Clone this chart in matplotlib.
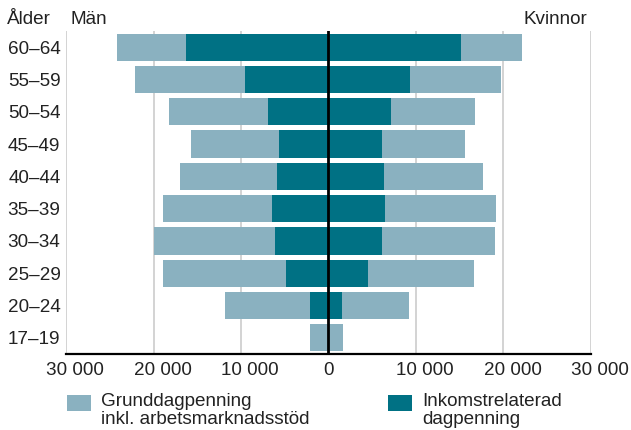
import numpy as np
import matplotlib
matplotlib.use("Agg")
import matplotlib.pyplot as plt
from matplotlib.patches import Rectangle
from matplotlib.transforms import ScaledTranslation

plt.rcParams['font.family'] = ['Liberation Sans', 'DejaVu Sans']

# age groups, top to bottom
ages = ["60–64", "55–59", "50–54", "45–49", "40–44",
        "35–39", "30–34", "25–29", "20–24", "17–19"]

# men: total (grund + inkomst) and inkomstrelaterad part
men_total = [24150, 22140, 18210, 15730, 16990, 18930, 19960, 18900, 11810, 2170]
men_inkomst = [16340, 9490, 6970, 5600, 5870, 6400, 6170, 4840, 2060, 0]
# women
women_total = [22130, 19770, 16800, 15580, 17710, 19160, 19010, 16610, 9180, 1640]
women_inkomst = [15200, 9260, 7120, 6060, 6320, 6510, 6060, 4570, 1560, 0]

ticks = [-30000, -20000, -10000, 0, 10000, 20000, 30000]
tick_labels = ["30 000", "20 000", "10 000", "0", "10 000", "20 000", "30 000"]

light = '#8AB1C0'
dark = '#007184'
txt = '#222222'
fs = 13.6

fig = plt.figure(figsize=(6.31, 4.30), dpi=100)
ax = fig.add_axes([0.1046, 0.1767, 0.8320, 0.7513])

y = np.arange(len(ages))
h = 0.84
mt = -np.array(men_total)
mi = -np.array(men_inkomst)
ax.barh(y, mt, height=h, color=light, zorder=2)
ax.barh(y, mi, height=h, color=dark, zorder=3)
ax.barh(y, women_total, height=h, color=light, zorder=2)
ax.barh(y, women_inkomst, height=h, color=dark, zorder=3)

ax.set_xlim(-30000, 30000)
ax.set_ylim(len(ages) - 0.5, -0.5)
ax.set_yticks(y)
ax.set_yticklabels(ages, fontsize=fs, color=txt)
ax.set_xticks(ticks)
ax.set_xticklabels(tick_labels, fontsize=fs, color=txt)
ax.tick_params(length=0)
ax.tick_params(axis='y', pad=4)
ax.tick_params(axis='x', pad=6)
for lab, t in zip(ax.get_xticklabels(), ticks):
    if t != 0:
        lab.set_transform(lab.get_transform() + ScaledTranslation(0.09, 0, fig.dpi_scale_trans))

for t in ticks:
    if t != 0:
        ax.axvline(t, color='#cccccc', lw=1.2, zorder=1)
ax.axvline(0, color='black', lw=2, zorder=4)

for s in ['top', 'left', 'right']:
    ax.spines[s].set_visible(False)
ax.spines['bottom'].set_linewidth(1.6)
ax.spines['bottom'].set_color('black')
ax.spines['bottom'].set_zorder(5)

fig.text(7 / 631, 1 - 19 / 430, "Ålder", fontsize=fs, color=txt, va='center', ha='left')
fig.text(71 / 631, 1 - 19 / 430, "Män", fontsize=fs, color=txt, va='center', ha='left')
fig.text(587 / 631, 1 - 19 / 430, "Kvinnor", fontsize=fs, color=txt, va='center', ha='right')

# legend
for x0, col, lines in [(66.7, light, "Grunddagpenning\ninkl. arbetsmarknadsstöd"),
                       (388, dark, "Inkomstrelaterad\ndagpenning")]:
    fig.add_artist(Rectangle((x0 / 631, 1 - 411 / 430), 24.5 / 631, 16 / 430,
                             transform=fig.transFigure, color=col, lw=0))
    fig.text((x0 + 34) / 631, 1 - 393 / 430, lines, fontsize=fs, color=txt,
             va='top', ha='left', linespacing=1.05)

fig.savefig("out.png", dpi=100)
